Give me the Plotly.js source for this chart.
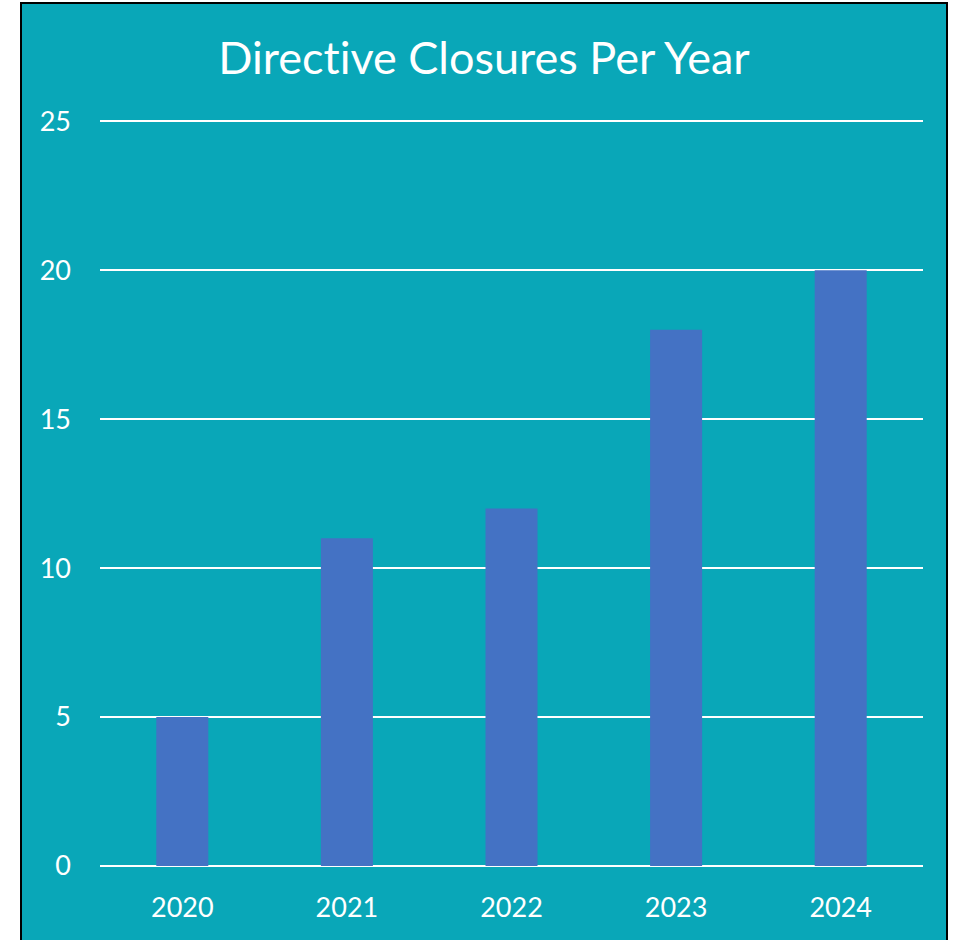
<!DOCTYPE html>
<html>
<head>
<meta charset="utf-8">
<script src="https://cdn.plot.ly/plotly-3.0.1.min.js"></script>
<style>
  html, body { margin: 0; padding: 0; background: #ffffff; overflow: hidden; }
  #frame { position: absolute; left: 20px; top: 2px; width: 924px; height: 960px;
           border-left: 2px solid #000; border-right: 2px solid #000; border-top: 2px solid #000; }
  #chart { width: 924px; height: 936px; }
  svg text { font-variant-ligatures: none; font-feature-settings: "liga" 0, "clig" 0; }
</style>
</head>
<body>
<div id="frame"><div id="chart"></div></div>
<script>
const years = ['2020', '2021', '2022', '2023', '2024'];
const closures = [5, 11, 12, 18, 20];
const yTicks = [0, 5, 10, 15, 20, 25];

const trace = {
  type: 'bar',
  x: years,
  y: closures,
  marker: { color: '#4472C4' },
  hoverinfo: 'x+y'
};

const layout = {
  width: 924,
  height: 936,
  paper_bgcolor: '#09A7B8',
  plot_bgcolor: '#09A7B8',
  margin: { l: 78, r: 23, t: 116, b: 74 },
  bargap: 0.684,
  showlegend: false,
  font: { family: 'Lato, "Open Sans", sans-serif', color: '#ffffff', size: 27 },
  title: {
    text: 'Directive Closures Per Year',
    font: { family: 'Lato, "Open Sans", sans-serif', size: 45, color: '#ffffff' },
    x: 0.5, xanchor: 'center',
    y: 1 - 54 / 936, yanchor: 'middle'
  },
  xaxis: {
    type: 'category',
    showgrid: false,
    showline: false,
    zeroline: false,
    ticks: '',
    ticklabelstandoff: 23,
    tickfont: { size: 27, color: '#ffffff' }
  },
  yaxis: {
    range: [0, 25.04],
    tickvals: yTicks,
    ticktext: yTicks.map(String),
    showgrid: true,
    gridcolor: '#ffffff',
    gridwidth: 2,
    zeroline: true,
    zerolinecolor: '#ffffff',
    zerolinewidth: 2,
    showline: false,
    ticks: '',
    ticklabelstandoff: 28,
    tickfont: { size: 27, color: '#ffffff' }
  }
};

Plotly.newPlot('chart', [trace], layout, { displayModeBar: false, staticPlot: true });
</script>
</body>
</html>
